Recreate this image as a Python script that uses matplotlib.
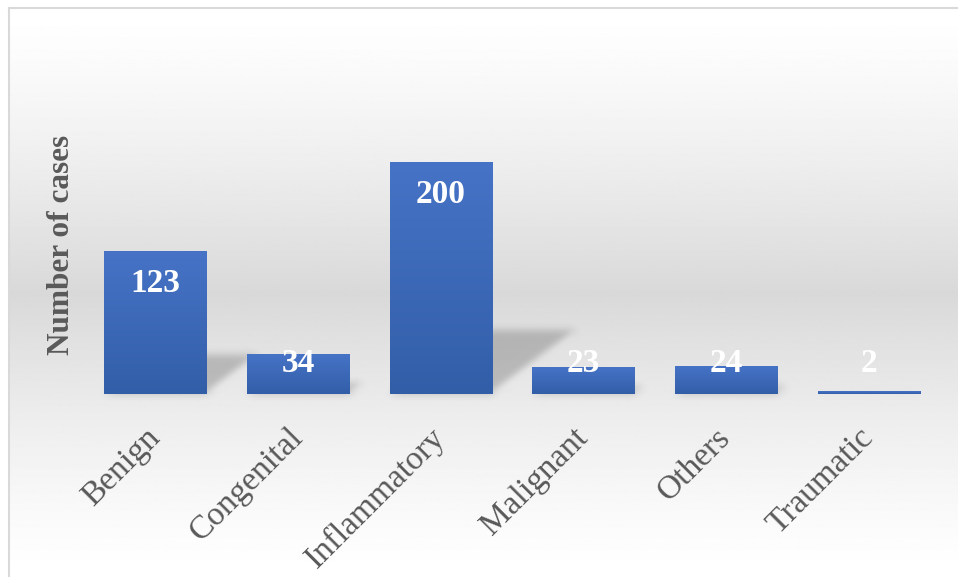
import numpy as np
import matplotlib
matplotlib.use("Agg")
import matplotlib.pyplot as plt
from matplotlib.colors import LinearSegmentedColormap
from matplotlib.patches import Polygon

# Case counts by category
categories = ["Benign", "Congenital", "Inflammatory", "Malignant", "Others", "Traumatic"]
cases = [123, 34, 200, 23, 24, 2]
ylabel_text = "Number of cases"

W, H = 958, 577
fig = plt.figure(figsize=(W / 100, H / 100), dpi=100)
fig.patch.set_facecolor("white")

# ---- chart-area background with vertical white-gray-white gradient ----
bg = fig.add_axes([0, 0, 1, 1], zorder=0)
bg.set_xlim(0, W)
bg.set_ylim(H, 0)
bg.axis("off")
ys = np.linspace(0, 1, 400)
grey = 1.0 - 0.15 * (1 - np.abs(ys - 0.5) * 2) ** 1.3
grad = np.repeat(grey[:, None], 2, axis=1)
bg.imshow(grad, cmap="gray", vmin=0, vmax=1, extent=(9, W + 2, H + 2, 8),
          aspect="auto", interpolation="bilinear", zorder=0)
bg.plot([9, 9], [8, H + 2], color="#d9d9d9", lw=1.5, zorder=1)
bg.plot([9, W + 2], [8, 8], color="#d9d9d9", lw=1.5, zorder=1)


class BlurFilter:
    """Gaussian blur applied to an artist's rendered pixels."""

    def __init__(self, sigma):
        self.sigma = sigma

    def __call__(self, im, dpi):
        pad = int(self.sigma * 3)
        src = np.pad(im, [(pad, pad), (pad, pad), (0, 0)], "constant")
        r = np.arange(-pad, pad + 1)
        k = np.exp(-0.5 * (r / self.sigma) ** 2)
        k /= k.sum()
        out = np.apply_along_axis(lambda m: np.convolve(m, k, mode="same"), 0, src)
        out = np.apply_along_axis(lambda m: np.convolve(m, k, mode="same"), 1, out)
        return out, -pad, -pad


# ---- main plot ----
ax = fig.add_axes([84 / W, (H - 394) / H, 856 / W, 334 / H], zorder=2)
ax.patch.set_alpha(0)
x = np.arange(len(categories))
width = 0.715
ymax = 288

bar_cmap = LinearSegmentedColormap.from_list("barblue", ["#325ea8", "#4673c6"])
vgrad = np.linspace(0, 1, 256)[:, None]

shear, squash = 0.003, 0.276
for xi, v in zip(x, cases):
    left, right = xi - width / 2, xi + width / 2
    # perspective shadow falling back to the right
    shadow = Polygon([(left, 0), (right, 0), (right + shear * v, squash * v),
                      (left + shear * v, squash * v)], closed=True,
                     facecolor="black", alpha=0.2, edgecolor="none", zorder=1)
    shadow.set_agg_filter(BlurFilter(4.0))
    ax.add_patch(shadow)
    # bar body with vertical gradient
    ax.imshow(vgrad, cmap=bar_cmap, origin="lower", extent=(left, right, 0, v),
              aspect="auto", interpolation="bilinear", zorder=2)
    # value label
    ly = max(v - 27.6, 26.7)
    ax.text(xi, ly, str(v), ha="center", va="center", color="white",
            fontsize=24, fontweight="bold", family="Liberation Serif", zorder=4)

ax.set_xlim(-0.5, len(categories) - 0.5)
ax.set_ylim(0, ymax)
ax.set_yticks([])
ax.set_xticks(x)
ax.set_xticklabels(categories, rotation=45, ha="right", va="center",
                   rotation_mode="anchor", fontsize=24, color="#595959",
                   family="Liberation Serif")
ax.tick_params(axis="x", length=0, pad=28)
for s in ax.spines.values():
    s.set_visible(False)

fig.text(62 / W, (H - 245) / H, ylabel_text, rotation=90, ha="center", va="center",
         fontsize=22.5, fontweight="bold", color="#595959", family="Liberation Serif")

fig.savefig("out.png", dpi=100)
